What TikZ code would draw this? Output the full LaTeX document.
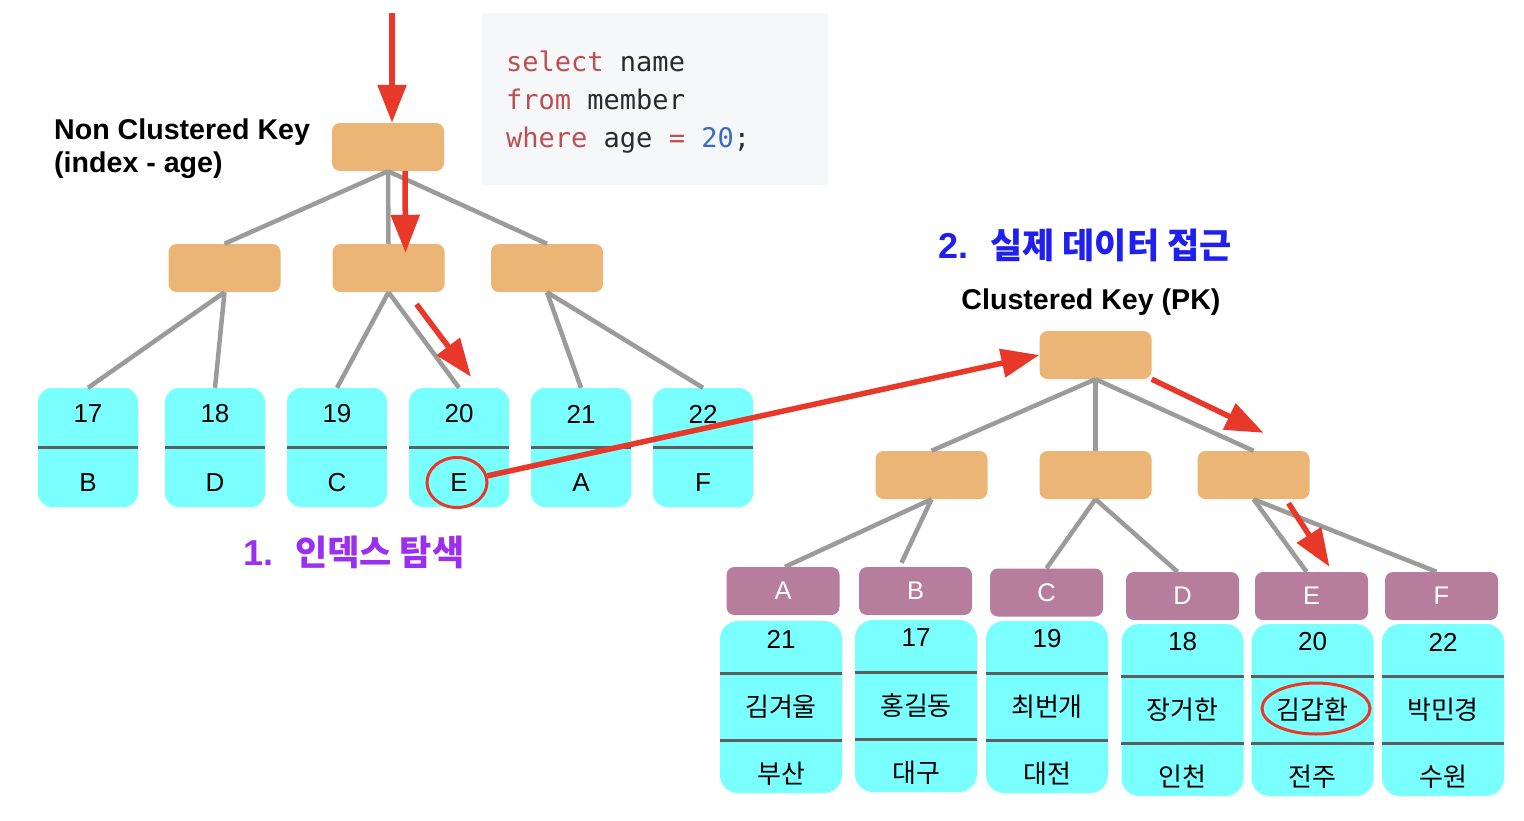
\documentclass[tikz,border=0pt]{standalone}
\usepackage{fontspec}
\setmainfont{Liberation Sans}
\newfontfamily\kr{Noto Sans CJK KR}
\newfontfamily\codefont{DejaVu Sans Mono}
\usetikzlibrary{arrows.meta,shapes.geometric}
\definecolor{orangec}{HTML}{EBB576}
\definecolor{cyanc}{HTML}{7AFFFF}
\definecolor{mauve}{HTML}{B67E9C}
\definecolor{linegray}{HTML}{9B9B9B}
\definecolor{divgray}{HTML}{5E5E5E}
\definecolor{redc}{HTML}{E8382A}
\definecolor{codebg}{HTML}{F6F7F9}
\definecolor{kw}{HTML}{BD4F52}
\definecolor{num}{HTML}{3A6BC8}
\definecolor{codeblack}{HTML}{2B2B2B}
\definecolor{titleblue}{HTML}{1F1FEF}
\definecolor{titlepurple}{HTML}{9B2FF0}
\begin{document}
\begin{tikzpicture}[x=1pt,y=-1pt,
  innerbox/.style={fill=orangec, rounded corners=8pt, minimum width=112pt, minimum height=48pt, inner sep=0pt},
  leafbox/.style={fill=cyanc, rounded corners=14pt, minimum width=100pt, minimum height=119pt, inner sep=0pt},
  hdrbox/.style={fill=mauve, rounded corners=8pt, minimum width=113pt, minimum height=48pt, inner sep=0pt, text=white, font=\fontsize{25.5}{30}\selectfont},
  recbox/.style={fill=cyanc, rounded corners=18pt, minimum width=122pt, minimum height=172pt, inner sep=0pt},
  link/.style={draw=linegray, line width=4.5pt},
  divider/.style={draw=divgray, line width=3pt},
  redarrow/.style={draw=redc, line width=5.5pt, -{Triangle[width=28pt,length=38pt]}},
  ring/.style={draw=redc, line width=3pt, ellipse, inner sep=0pt},
  celltxt/.style={inner sep=0pt, font=\fontsize{26}{30}\selectfont},
  krtxt/.style={inner sep=0pt, font=\kr\fontsize{26}{30}\selectfont},
  boldlabel/.style={inner sep=0pt, font=\bfseries\fontsize{28.6}{34}\selectfont},
  codetxt/.style={inner sep=0pt, anchor=base west, text=codeblack, font=\codefont\fontsize{27}{38}\selectfont}
]
\useasboundingbox (0,0) rectangle (1524,820);

% code box
\node[fill=codebg, minimum width=346pt, minimum height=172pt, inner sep=0pt] (codebox) at (655,99) {};
\node[codetxt] (code1) at (506,71) {\textcolor{kw}{select} name};
\node[codetxt] (code2) at (506,109) {\textcolor{kw}{from} member};
\node[codetxt] (code3) at (506,147) {\textcolor{kw}{where} age \textcolor{kw}{=} \textcolor{num}{20};};

% labels
\node[boldlabel, anchor=base west] (nck1) at (54,139) {Non Clustered Key};
\node[boldlabel, anchor=base west] (nck2) at (54,172) {(index - age)};
\node[boldlabel, anchor=base] (ckey) at (1091,309) {Clustered Key (PK)};
\node[inner sep=0pt, anchor=base west, text=titleblue] (title2) at (938,258)
  {\bfseries\fontsize{36}{40}\selectfont 2.\hspace{22pt}{\kr\bfseries\fontsize{35}{40}\selectfont 실제 데이터 접근}};
\node[inner sep=0pt, anchor=base west, text=titlepurple] (title1) at (243,565)
  {\bfseries\fontsize{36}{40}\selectfont 1.\hspace{22pt}{\kr\bfseries\fontsize{35}{40}\selectfont 인덱스 탐색}};

% left tree
\node[innerbox] (lroot) at (388,147) {};
\node[innerbox] (lm1) at (224.5,268) {};
\node[innerbox] (lm2) at (388.5,268) {};
\node[innerbox] (lm3) at (547,268) {};
\foreach \x/\n/\l in {88/17/B, 215/18/D, 337/19/C, 459/20/E, 581/21/A, 703/22/F} {
  \node[leafbox] (leaf\n) at (\x,447.5) {};
  \draw[divider] (leaf\n.west) -- (leaf\n.east);
  \node[celltxt] (leafnum\n) at (\x,414) {\n};
  \node[celltxt] (leaflet\n) at (\x,482.5) {\l};
}
\draw[link] (lroot.south) -- (lm1.north);
\draw[link] (lroot.south) -- (lm2.north);
\draw[link] (lroot.south) -- (lm3.north);
\draw[link] (lm1.south) -- (leaf17.north);
\draw[link] (lm1.south) -- (leaf18.north);
\draw[link] (lm2.south) -- (leaf19.north);
\draw[link] (lm2.south) -- (leaf20.north);
\draw[link] (lm3.south) -- (leaf21.north);
\draw[link] (lm3.south) -- (leaf22.north);

% right tree
\node[innerbox] (rroot) at (1095.5,355) {};
\node[innerbox] (rm1) at (931.5,475) {};
\node[innerbox] (rm2) at (1095.5,475) {};
\node[innerbox] (rm3) at (1253.5,475) {};
\foreach \hx/\hy/\rx/\ry/\L/\age/\nm/\city in {
  783/591/781/707/A/21/김겨울/부산,
  915.5/591/916/706/B/17/홍길동/대구,
  1046.5/592.5/1047/707/C/19/최번개/대전,
  1182.5/596/1182.5/710/D/18/장거한/인천,
  1311.5/596/1312.5/710/E/20/김갑환/전주,
  1441.5/596/1443/710/F/22/박민경/수원} {
  \node[hdrbox] (hdr\L) at (\hx,\hy) {\L};
  \node[recbox] (rec\L) at (\rx,\ry) {};
  \draw[divider] ([yshift=34pt]rec\L.west) -- ([yshift=34pt]rec\L.east);
  \draw[divider] ([yshift=-33pt]rec\L.west) -- ([yshift=-33pt]rec\L.east);
  \node[celltxt] (recage\L) at (\rx,\ry-68) {\age};
  \node[krtxt] (recname\L) at (\rx,\ry) {\nm};
  \node[krtxt] (reccity\L) at (\rx,\ry+67) {\city};
}
\draw[link] (rroot.south) -- (rm1.north);
\draw[link] (rroot.south) -- (rm2.north);
\draw[link] (rroot.south) -- (rm3.north);
\draw[link] (rm1.south) -- ([xshift=2pt]hdrA.north);
\draw[link] (rm1.south) -- ([xshift=-14pt,yshift=4pt]hdrB.north);
\draw[link] (rm2.south) -- (hdrC.north);
\draw[link] (rm2.south) -- ([xshift=-5pt]hdrD.north);
\draw[link] (rm3.south) -- ([xshift=-5pt]hdrE.north);
\draw[link] (rm3.south) -- ([xshift=-5pt]hdrF.north);

% rings
\node[ring, minimum width=60pt, minimum height=50pt] (ringE) at (457,482.5) {};
\node[ring, minimum width=108pt, minimum height=51pt] (ringName) at (1316,708.5) {};

% red arrows
\coordinate (topstart) at (392,13);
\draw[redarrow] (topstart) -- ([xshift=4pt]lroot.north);
\draw[redarrow] ([xshift=17pt]lroot.south) -- ([xshift=17pt,yshift=-9pt]lm2.north);
\draw[redarrow] ([xshift=28pt,yshift=-12pt]lm2.south) -- ([xshift=12pt,yshift=11pt]leaf20.north);
\draw[redarrow] (ringE) -- (rroot.west);
\draw[redarrow] (rroot.south east) -- ([xshift=10pt,yshift=18pt]rm3.north);
\draw[redarrow] ([xshift=35pt,yshift=-4pt]rm3.south) -- ([xshift=18pt,yshift=5pt]hdrE.north);
\end{tikzpicture}
\end{document}
